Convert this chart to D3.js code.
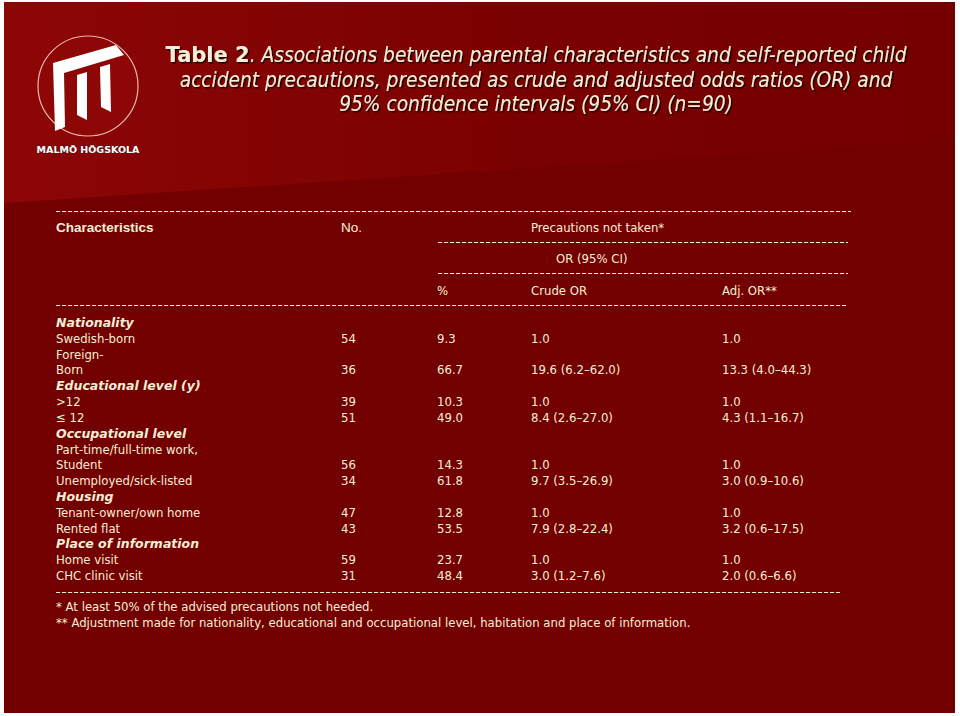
<!DOCTYPE html>
<html>
<head>
<meta charset="utf-8">
<script src="https://cdn.jsdelivr.net/npm/d3@7"></script>
<style>
html,body{margin:0;padding:0;background:#fff;}
svg{display:block;}
</style>
</head>
<body>
<svg id="chart" width="960" height="716"></svg>
<script>
// ---- data ----
const titleLines = [
  ["Table 2", ". Associations between parental characteristics and self-reported child"],
  ["", "accident precautions, presented as crude and adjusted odds ratios (OR) and"],
  ["", "95% confidence intervals (95% CI) (n=90)"]
];
const columnHeaders = ["Characteristics", "No.", "%", "Crude OR", "Adj. OR**"];
const spanHeader1 = "Precautions not taken*";
const spanHeader2 = "OR (95% CI)";
const rowLabels = ["Nationality","Swedish-born","Foreign-","Born","Educational level (y)",">12","≤ 12",
  "Occupational level","Part-time/full-time work,","Student","Unemployed/sick-listed","Housing",
  "Tenant-owner/own home","Rented flat","Place of information","Home visit","CHC clinic visit"];
const headingRows = [0, 4, 7, 11, 14];
const numbers   = ["","54","","36","","39","51","","","56","34","","47","43","","59","31"];
const percents  = ["","9.3","","66.7","","10.3","49.0","","","14.3","61.8","","12.8","53.5","","23.7","48.4"];
const crudeOR   = ["","1.0","","19.6 (6.2–62.0)","","1.0","8.4 (2.6–27.0)","","","1.0","9.7 (3.5–26.9)","","1.0","7.9 (2.8–22.4)","","1.0","3.0 (1.2–7.6)"];
const adjOR     = ["","1.0","","13.3 (4.0–44.3)","","1.0","4.3 (1.1–16.7)","","","1.0","3.0 (0.9–10.6)","","1.0","3.2 (0.6–17.5)","","1.0","2.0 (0.6–6.6)"];
const footnotes = ["* At least 50% of the advised precautions not heeded.",
  "** Adjustment made for nationality, educational and occupational level, habitation and place of information."];
const logoText = "MALMÖ HÖGSKOLA";

// ---- drawing ----
const svg = d3.select("#chart");
const W = 960, H = 716;
const cream = "#f6eed6";
const bodyFont = "'DejaVu Sans Condensed', 'DejaVu Sans', sans-serif";

const defs = svg.append("defs");
const hg = defs.append("linearGradient").attr("id","hdr").attr("x1","0").attr("y1","0").attr("x2","1").attr("y2","0");
hg.append("stop").attr("offset","0").attr("stop-color","#8d0606");
hg.append("stop").attr("offset","0.55").attr("stop-color","#7a0101");
hg.append("stop").attr("offset","1").attr("stop-color","#740000");
const sh = defs.append("filter").attr("id","shadow").attr("x","-5%").attr("y","-20%").attr("width","110%").attr("height","150%");
sh.append("feDropShadow").attr("dx",1.5).attr("dy",1.5).attr("stdDeviation",0.6).attr("flood-color","#1a0000").attr("flood-opacity",0.95);

svg.append("rect").attr("width",W).attr("height",H).attr("fill","#ffffff");
svg.append("rect").attr("x",4).attr("y",2).attr("width",951).attr("height",711).attr("fill","#730000");
// header band with diagonal bottom edge
svg.append("path").attr("d","M4,2 L955,2 L955,140 L4,203 Z").attr("fill","url(#hdr)");

// ---- logo ----
const logo = svg.append("g").attr("transform","translate(88,86)");
logo.append("circle").attr("r",50).attr("fill","#8e0707").attr("stroke","#e9b8b0").attr("stroke-width",1.2);
logo.append("path").attr("d","M-35,-23 L28,-41 L36,-31 L-24,-13 L-23,41 L-33,45 Z").attr("fill","#ffffff");
logo.append("path").attr("d","M-11,-11 L-1,-14 L-1,34 L-11,29 Z").attr("fill","#ffffff");
logo.append("path").attr("d","M12,-19 L22,-22 L23,26 L13,21 Z").attr("fill","#ffffff");
logo.append("text").attr("x",0).attr("y",67).attr("text-anchor","middle")
  .attr("font-family","'DejaVu Sans', sans-serif").attr("font-weight","bold").attr("font-size",9.5)
  .attr("fill","#ffffff").attr("stroke","#222").attr("stroke-width",0.6).attr("paint-order","stroke")
  .text(logoText);

// ---- title ----
const titleY = d3.scaleLinear().domain([0,2]).range([62,111]);
titleLines.forEach((ln,i) => {
  const t = svg.append("text").attr("x",536).attr("y",titleY(i)).attr("text-anchor","middle")
    .attr("font-family",bodyFont).attr("font-size",20.7).attr("fill",cream).attr("filter","url(#shadow)");
  if (ln[0]) t.append("tspan").attr("font-weight","bold").attr("font-style","normal").attr("font-family","'DejaVu Sans', sans-serif").attr("font-size",21).text(ln[0]);
  t.append("tspan").attr("font-style","italic").text(ln[1]);
});

// ---- table ----
const colX = d3.scaleOrdinal().domain(columnHeaders).range([56, 341, 437, 531, 722]);
const rowY = d3.scaleLinear().domain([0, rowLabels.length-1]).range([327, 580]);
const fs = 13;

function dashed(x1, x2, y) {
  svg.append("line").attr("x1",x1).attr("x2",x2).attr("y1",y).attr("y2",y)
    .attr("stroke",cream).attr("stroke-width",1).attr("stroke-dasharray","4.2,1.8");
}
dashed(56, 851, 211.5);
dashed(438, 848, 242.5);
dashed(438, 848, 273.5);
dashed(56, 846, 305.5);
dashed(56, 840, 592.5);

// headers
svg.append("text").attr("x",colX("Characteristics")).attr("y",232).attr("fill",cream)
  .attr("font-family","'Liberation Sans', Arial, sans-serif").attr("font-weight","bold").attr("font-size",13.5)
  .text(columnHeaders[0]);
svg.append("text").attr("x",colX("No.")).attr("y",232).attr("fill",cream)
  .attr("font-family","'Liberation Sans', Arial, sans-serif").attr("font-size",13.5).text(columnHeaders[1]);
svg.append("text").attr("x",531).attr("y",232).attr("fill",cream).attr("font-family",bodyFont).attr("font-size",fs).text(spanHeader1);
svg.append("text").attr("x",556).attr("y",263).attr("fill",cream).attr("font-family",bodyFont).attr("font-size",fs).text(spanHeader2);
columnHeaders.slice(2).forEach(h => {
  svg.append("text").attr("x",colX(h)).attr("y",295).attr("fill",cream).attr("font-family",bodyFont).attr("font-size",fs).text(h);
});

// body rows
const rows = rowLabels.map((lab,i) => ({lab, i, no:numbers[i], pct:percents[i], cr:crudeOR[i], adj:adjOR[i], head: headingRows.includes(i)}));
const g = svg.append("g").attr("font-family",bodyFont).attr("font-size",fs).attr("fill",cream);
const rg = g.selectAll("g.row").data(rows).join("g").attr("class","row")
  .attr("transform", d => `translate(0,${rowY(d.i)})`);
rg.append("text").attr("x",colX("Characteristics"))
  .attr("font-weight", d => d.head ? "bold" : null)
  .attr("font-style", d => d.head ? "italic" : null)
  .attr("font-family", d => d.head ? "'DejaVu Sans', sans-serif" : null)
  .attr("font-size", d => d.head ? 12.5 : null)
  .text(d => d.lab);
rg.append("text").attr("x",colX("No.")).text(d => d.no);
rg.append("text").attr("x",colX("%")).text(d => d.pct);
rg.append("text").attr("x",colX("Crude OR")).text(d => d.cr);
rg.append("text").attr("x",colX("Adj. OR**")).text(d => d.adj);

// footnotes
const fy = d3.scaleLinear().domain([0,1]).range([611,627]);
g.selectAll("text.fn").data(footnotes).join("text").attr("class","fn")
  .attr("x",56).attr("y",(d,i)=>fy(i)).text(d=>d);
</script>
</body>
</html>
